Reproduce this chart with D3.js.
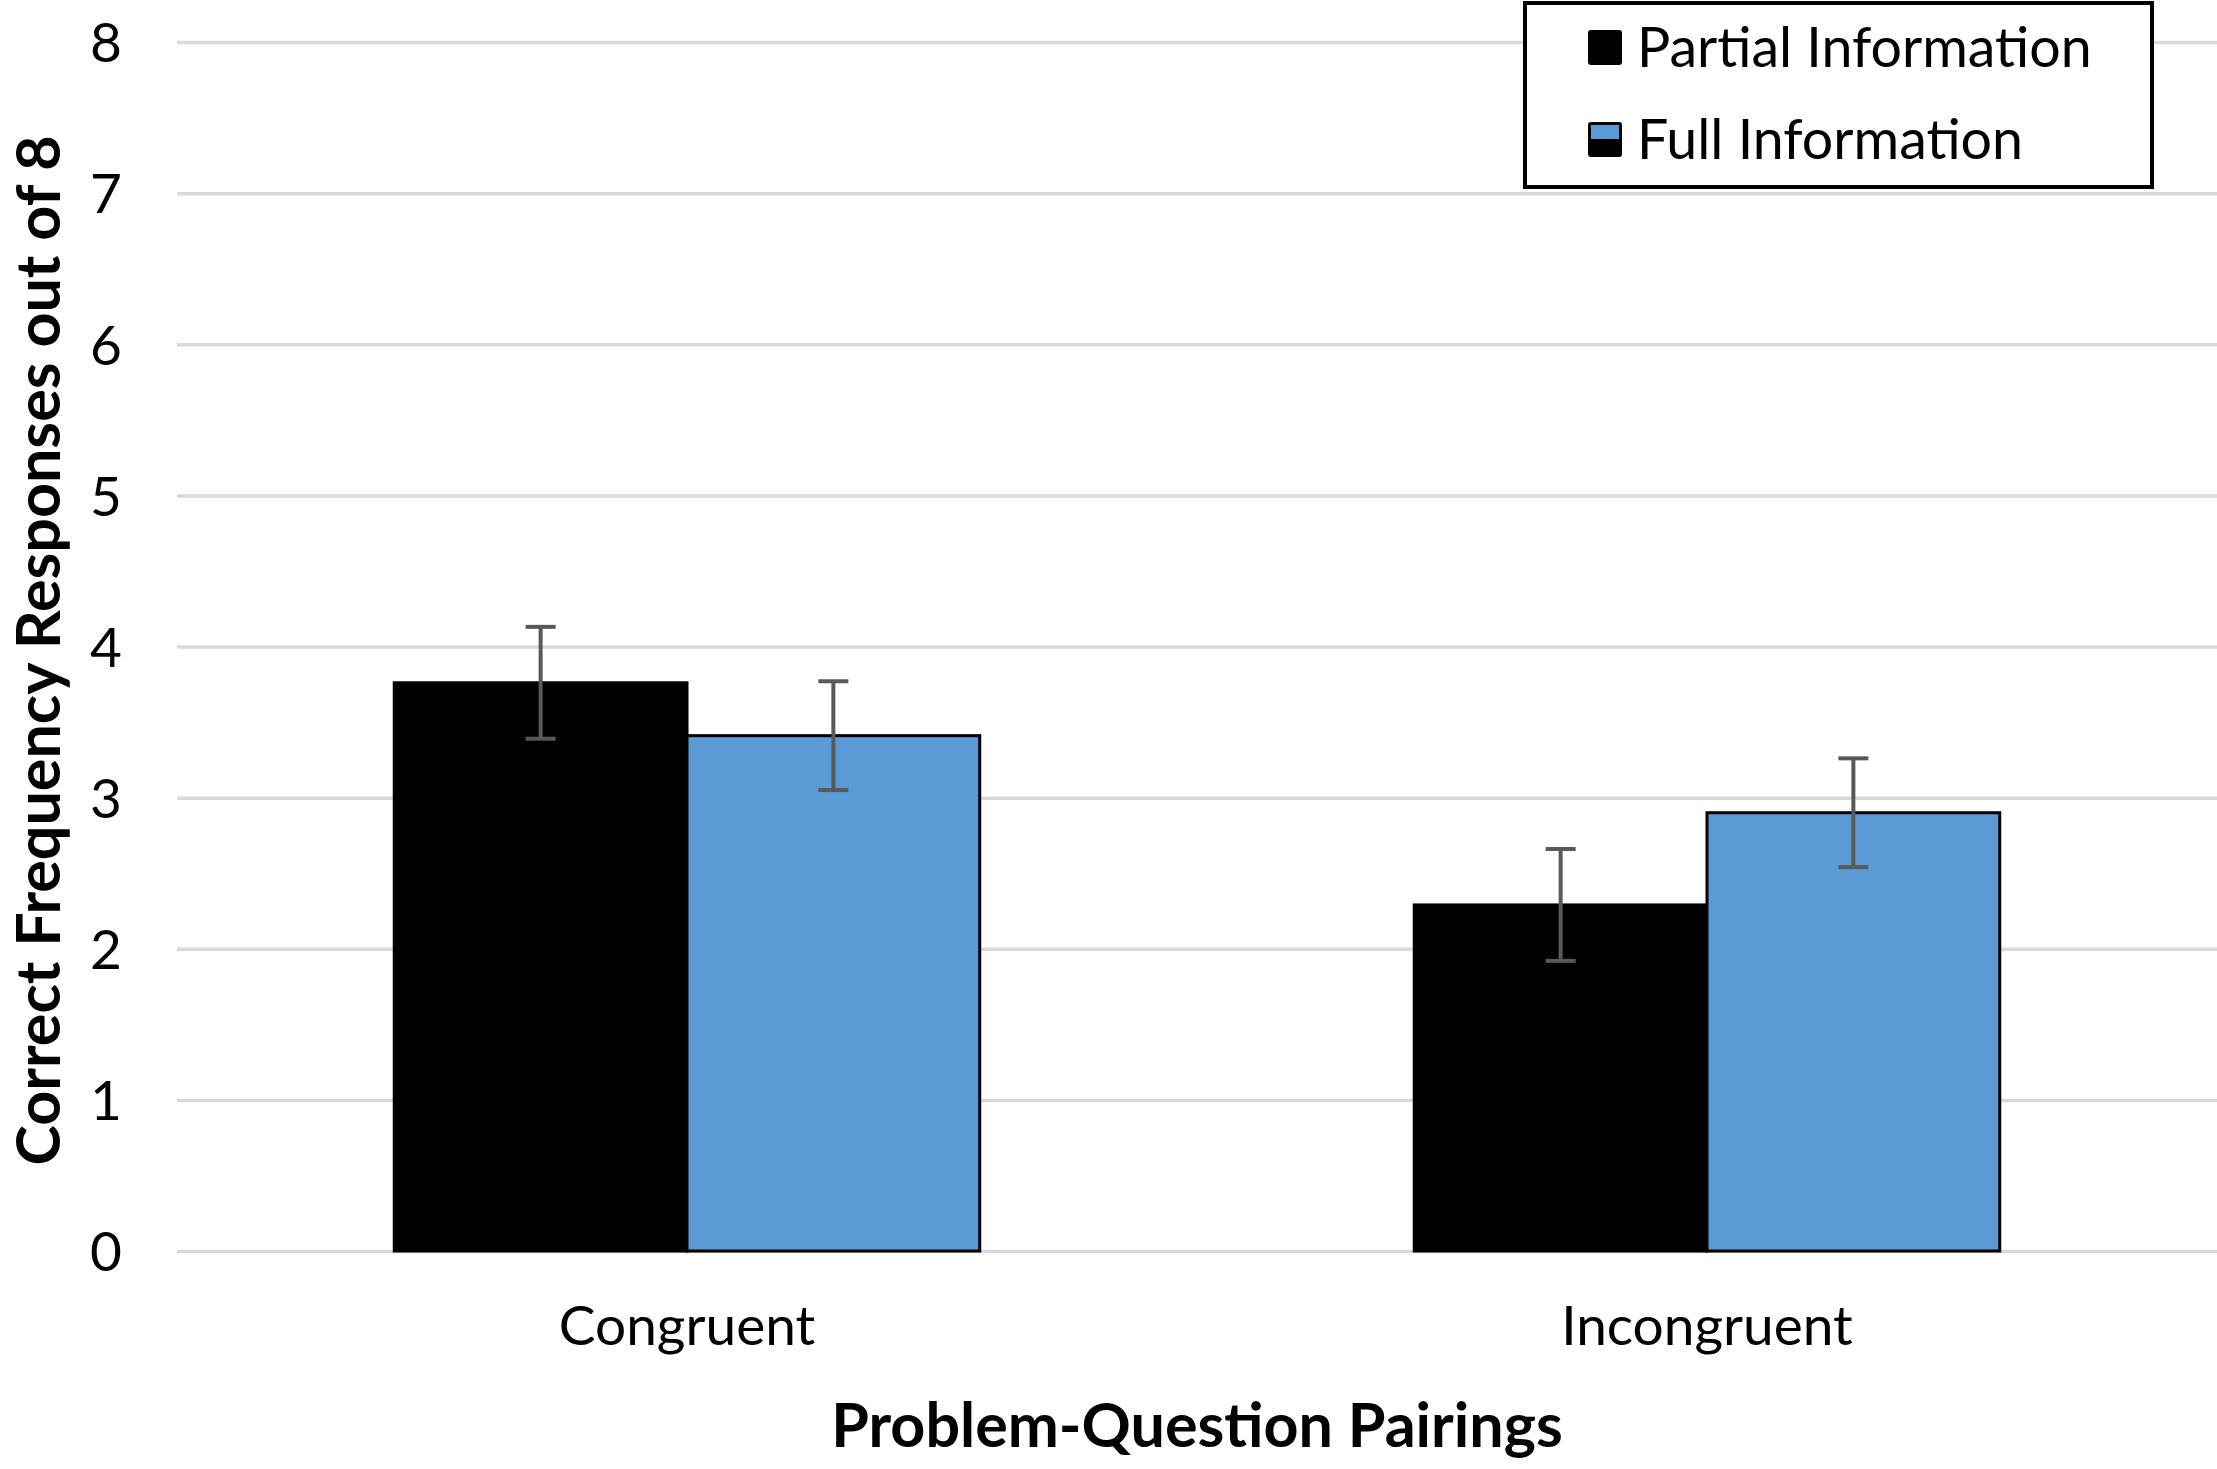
<!DOCTYPE html>
<html>
<head>
<meta charset="utf-8">
<script src="https://cdn.jsdelivr.net/npm/d3@7"></script>
<style>
  body { margin: 0; background: #fff; }
  text { font-family: Lato, "Open Sans", sans-serif; fill: #000; }
</style>
</head>
<body>
<div id="chart"></div>
<script>
var categories = ["Congruent", "Incongruent"];
var seriesNames = ["Partial Information", "Full Information"];
var seriesColors = ["#000000", "#5b9bd5"];
var partialValues = [3.76, 2.29];
var fullValues = [3.41, 2.90];
var partialErrors = [0.37, 0.37];
var fullErrors = [0.36, 0.36];
var yTicks = [0, 1, 2, 3, 4, 5, 6, 7, 8];

function draw() {
    var width = 2217, height = 1469;
    var margin = { left: 177, right: 0, top: 42, bottom: 218 };
    var w = width - margin.left - margin.right;
    var h = height - margin.top - margin.bottom;

    var svg = d3.select("#chart")
        .append("svg")
        .attr("width", width)
        .attr("height", height)
      .append("g")
        .attr("transform", "translate(" + margin.left + "," + margin.top + ")");

    var x0 = d3.scaleBand().domain(categories).range([0, w]).paddingInner(0).paddingOuter(0);
    var groupW = x0.bandwidth() * 0.574;
    var x1 = d3.scaleBand().domain(seriesNames)
        .range([(x0.bandwidth() - groupW) / 2, (x0.bandwidth() + groupW) / 2]);
    var y = d3.scaleLinear().domain([0, 8]).range([h, 0]);

    // gridlines
    svg.append("g")
        .attr("class", "grid")
        .call(d3.axisLeft(y).tickValues(yTicks).tickSize(-w).tickFormat(""))
        .call(function(g) {
            g.select(".domain").remove();
            g.selectAll("line").attr("stroke", "#d9d9d9").attr("stroke-width", 3.5);
        });

    // y tick labels
    svg.append("g")
        .call(d3.axisLeft(y).tickValues(yTicks).tickSize(0).tickPadding(71))
        .call(function(g) {
            g.select(".domain").remove();
            g.selectAll("text")
                .style("font-size", "55px")
                .style("font-family", "Lato, sans-serif")
                .attr("fill", "#000")
                .attr("text-anchor", "middle")
                .attr("dy", "0.36em");
        });

    // x category labels
    svg.append("g")
        .attr("transform", "translate(0," + h + ")")
        .call(d3.axisBottom(x0).tickSize(0).tickPadding(55))
        .call(function(g) {
            g.select(".domain").remove();
            g.selectAll("text")
                .style("font-size", "55px")
                .style("font-family", "Lato, sans-serif")
                .attr("fill", "#000");
        });

    var flat = [];
    categories.forEach(function(c, i) {
        flat.push({ cat: c, s: seriesNames[0], v: partialValues[i], e: partialErrors[i], color: seriesColors[0] });
        flat.push({ cat: c, s: seriesNames[1], v: fullValues[i], e: fullErrors[i], color: seriesColors[1] });
    });

    var groups = svg.selectAll("g.bar")
        .data(flat)
      .enter().append("g")
        .attr("class", "bar")
        .attr("transform", function(d) { return "translate(" + x0(d.cat) + ",0)"; });

    groups.append("rect")
        .attr("x", function(d) { return x1(d.s); })
        .attr("y", function(d) { return y(d.v); })
        .attr("width", x1.bandwidth())
        .attr("height", function(d) { return h - y(d.v); })
        .attr("fill", function(d) { return d.color; })
        .attr("stroke", "#000")
        .attr("stroke-width", 3);

    // error bars
    var cap = 15;
    groups.each(function(d) {
        var g = d3.select(this);
        var cx = x1(d.s) + x1.bandwidth() / 2;
        g.append("line")
            .attr("x1", cx).attr("x2", cx)
            .attr("y1", y(d.v + d.e)).attr("y2", y(d.v - d.e))
            .attr("stroke", "#595959").attr("stroke-width", 4);
        [d.v + d.e, d.v - d.e].forEach(function(val) {
            g.append("line")
                .attr("x1", cx - cap).attr("x2", cx + cap)
                .attr("y1", y(val)).attr("y2", y(val))
                .attr("stroke", "#595959").attr("stroke-width", 4);
        });
    });

    // axis titles
    svg.append("text")
        .attr("transform", "translate(" + (-margin.left + 38) + "," + (h / 2 + 4) + ") rotate(-90)")
        .attr("text-anchor", "middle")
        .attr("dy", "0.36em")
        .style("font-size", "61px")
        .style("font-weight", "bold")
        .text("Correct Frequency Responses out of 8");

    svg.append("text")
        .attr("x", w / 2)
        .attr("y", h + 174)
        .attr("text-anchor", "middle")
        .attr("dy", "0.36em")
        .style("font-size", "61px")
        .style("font-weight", "bold")
        .text("Problem-Question Pairings");

    // legend
    var legend = svg.append("g")
        .attr("transform", "translate(" + (1525 - margin.left) + "," + (3 - margin.top) + ")");
    legend.append("rect")
        .attr("width", 627).attr("height", 184)
        .attr("fill", "#fff")
        .attr("stroke", "#000")
        .attr("stroke-width", 4);
    seriesNames.forEach(function(name, i) {
        var ly = 44 + i * 92;
        legend.append("rect")
            .attr("x", 63).attr("y", ly - 17)
            .attr("width", 34).attr("height", 35)
            .attr("rx", 3)
            .attr("fill", "#000");
        if (i === 1) {
            legend.append("rect")
                .attr("x", 66).attr("y", ly - 14)
                .attr("width", 28).attr("height", 14)
                .attr("fill", seriesColors[1]);
        }
        legend.append("text")
            .attr("x", 112)
            .attr("y", ly)
            .attr("dy", "0.36em")
            .style("font-size", "55.5px")
            .text(name);
    });
}
draw();
</script>
</body>
</html>
